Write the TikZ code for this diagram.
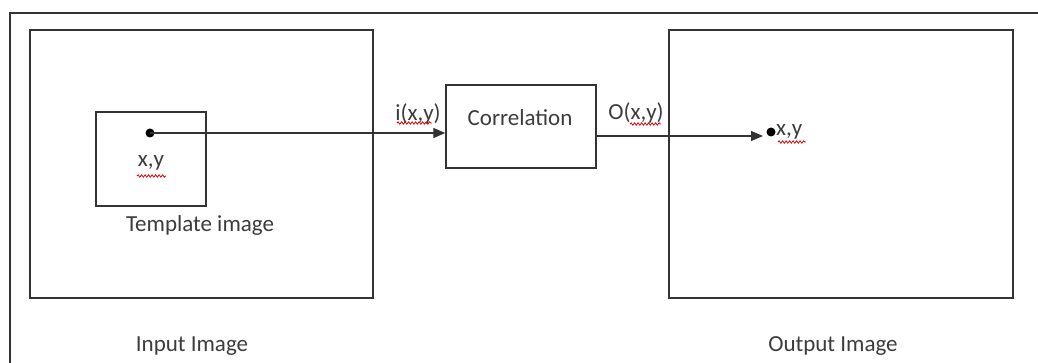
\documentclass[tikz,border=0pt]{standalone}
\usepackage{fontspec}
\setmainfont{Carlito}
\usetikzlibrary{arrows.meta,decorations.pathmorphing}
\definecolor{ink}{HTML}{333333}
\definecolor{txt}{HTML}{3C3C3C}
\tikzset{
  box/.style={draw=ink, line width=1.4pt, inner sep=0pt},
  lbl/.style={text=txt, font=\fontsize{23}{27}\selectfont, inner sep=0pt},
  arr/.style={draw=ink, line width=1.3pt, -{Triangle[length=12pt,width=10pt]}},
  spot/.style={circle, fill=black, inner sep=0pt, minimum size=9pt},
  squiggle/.style={draw=red!85!black, line width=0.8pt,
    decorate, decoration={snake, amplitude=1.2pt, segment length=3.5pt}}
}
\begin{document}
\begin{tikzpicture}[x=1pt,y=-1pt]
\useasboundingbox (0,0) rectangle (1038,363);
% outer frame (left and top edges)
\draw[ink, line width=1.4pt] (10,363) -- (10,13) -- (1038,13);

% main boxes
\node[box, minimum width=343pt, minimum height=268pt] (inbox) at (201.5,164) {};
\node[box, minimum width=110pt, minimum height=94pt] (tmpl) at (151,159) {};
\node[box, minimum width=150pt, minimum height=83pt] (corr) at (521,126.5) {};
\node[box, minimum width=344pt, minimum height=268pt] (outbox) at (841,164) {};

% labels
\node[lbl] (corrtxt) at (520,118) {Correlation};
\node[lbl] (tmpltxt) at (200,225) {Template image};
\node[lbl] (inlbl) at (192,346) {Input Image};
\node[lbl] (outlbl) at (833,346) {Output Image};
\node[lbl] (xyin) at (151,163) {x,y};
\node[lbl] (ilbl) at (418,114) {i(x,y)};
\node[lbl] (olbl) at (636,113) {O(x,y)};

% points and connectors
\node[spot] (pin) at (150,133) {};
\node[spot] (pout) at (771,132) {};
\node[lbl, anchor=west] (xyout) at (776,132) {x,y};
\coordinate (otip) at (763,136);
\draw[arr] (pin.center) -- (corr.west |- pin.center);
\draw[arr] ([yshift=-9.5pt]corr.east) -- (otip);

% spelling marks under the coordinate labels
\draw[squiggle] (137,176) -- (166,176);
\draw[squiggle] (397,123) -- (432,123);
\draw[squiggle] (630,124) -- (661,124);
\draw[squiggle] (778,142) -- (806,142);
\end{tikzpicture}
\end{document}
